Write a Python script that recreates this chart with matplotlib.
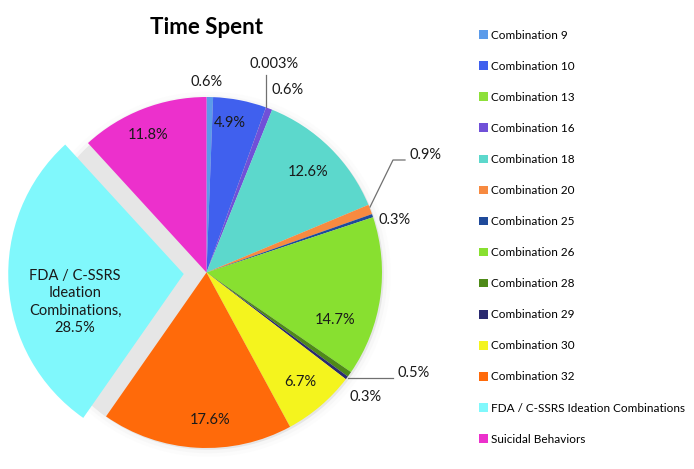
import matplotlib.pyplot as plt
from matplotlib.patches import Circle

# ---- data ----
categories = [
    "Combination 9", "Combination 10", "Combination 13", "Combination 16",
    "Combination 18", "Combination 20", "Combination 25", "Combination 26",
    "Combination 28", "Combination 29", "Combination 30", "Combination 32",
    "FDA / C-SSRS Ideation Combinations", "Suicidal Behaviors",
]
values = [0.6, 4.9, 0.003, 0.6, 12.6, 0.9, 0.3, 14.7, 0.5, 0.3, 6.7, 17.6, 28.5, 11.8]
pct_labels = ["0.6%", "4.9%", "0.003%", "0.6%", "12.6%", "0.9%", "0.3%", "14.7%",
              "0.5%", "0.3%", "6.7%", "17.6%",
              "FDA / C-SSRS\nIdeation\nCombinations,\n28.5%", "11.8%"]
colors = ["#5b9bea", "#4060ee", "#8ee03a", "#7050d8", "#5cd8cc", "#f78a40",
          "#1f4a9a", "#88e030", "#4e8a18", "#2a2a70", "#f4f41e", "#ff6a0a",
          "#80f8fc", "#ec30cc"]

plt.rcParams["font.family"] = ["Lato", "DejaVu Sans"]

W, H = 694, 469
CX, CY, R = 206.5, 272.5, 175.5   # pie centre / radius in pixels


def px(x, y):
    """pixel position -> data coords (pie radius = 1)"""
    return (x - CX) / R, (CY - y) / R


fig = plt.figure(figsize=(W / 100, H / 100), dpi=100)
ax = fig.add_axes([0, 0, 1, 1])

# 影(グレーの円)
for r, a in [(1.04, 0.10), (1.02, 0.20), (1.0, 1.0)]:
    ax.add_patch(Circle((0.01, -0.01), r, color="#e6e6e6", alpha=a, lw=0, zorder=0))

explode = [0.0] * len(values)
explode[12] = 0.13
wedges, _ = ax.pie(values, colors=colors, startangle=90, counterclock=False,
                   explode=explode, wedgeprops=dict(linewidth=0))
for w in wedges:
    w.set_zorder(2)

ax.set_xlim(-CX / R, (W - CX) / R)
ax.set_ylim(-(H - CY) / R, CY / R)
ax.set_aspect("auto")
ax.axis("off")

# ラベル位置(ピクセル)
label_pos = [(207, 82), (230, 123), (274, 64), (288, 90), (308, 172), (426, 155),
             (395, 220), (335, 320), (414, 373), (366, 397), (300, 382),
             (210, 420), (75, 302), (148, 135)]
for txt, (x, y) in zip(pct_labels, label_pos):
    ax.text(*px(x, y), txt, ha="center", va="center", fontsize=10.5,
            color="#1a1a1a", linespacing=1.3, zorder=5)

# 引き出し線
lc = "#707070"
for pts in [[(266, 107), (266, 75)],
            [(370, 207), (393, 160), (405, 160)],
            [(348, 378), (393, 378)]]:
    xs, ys = zip(*[px(*p) for p in pts])
    ax.plot(xs, ys, color=lc, lw=0.9, zorder=4)

ax.text(*px(206, 28), "Time Spent", ha="center", va="center",
        fontsize=16, fontweight="bold", color="black")

leg = ax.legend(wedges, categories, loc="upper left",
                bbox_to_anchor=(474 / W, 1 - 25 / H), frameon=False,
                fontsize=8.5, handlelength=0.75, handleheight=0.75,
                handletextpad=0.3, labelspacing=1.7, borderaxespad=0)

fig.savefig("out.png", dpi=100)
